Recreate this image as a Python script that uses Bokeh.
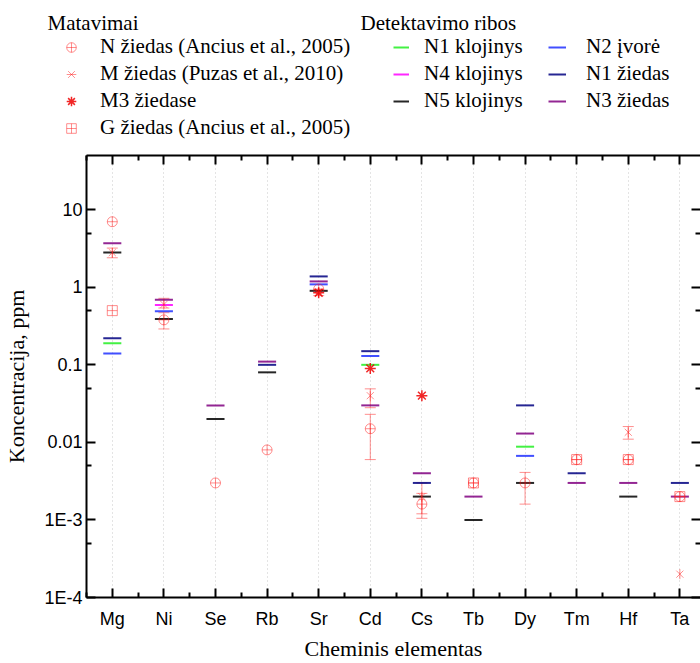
import numpy as np
from bokeh.plotting import figure
from bokeh.layouts import column
from bokeh.models import (ColumnDataSource, Whisker, TeeHead, Legend, LegendItem, Label,
                          FixedTicker, LinearAxis, LogAxis, CustomJSTickFormatter, Range1d)
from bokeh.embed import file_html
from bokeh.resources import INLINE

NA = None

ELEMENTS = ["Mg", "Ni", "Se", "Rb", "Sr", "Cd", "Cs", "Tb", "Dy", "Tm", "Hf", "Ta"]
Y_LABELS = ["1E-4", "1E-3", "0.01", "0.1", "1", "10"]

# Detection limits, ppm
LIM_N1_KLOJINYS = [0.19, NA, NA, NA, NA, 0.10, NA, NA, 0.0088, NA, NA, NA]
LIM_N2_IVORE = [0.14, 0.49, NA, NA, 1.09, 0.13, NA, NA, 0.0067, NA, NA, NA]
LIM_N4_KLOJINYS = [NA, 0.59, NA, NA, NA, NA, NA, NA, NA, NA, NA, NA]
LIM_N1_ZIEDAS = [0.22, NA, NA, 0.10, 1.38, 0.15, 0.003, NA, 0.03, 0.004, NA, 0.003]
LIM_N5_KLOJINYS = [2.8, 0.39, 0.02, 0.08, 0.90, NA, 0.002, 0.001, 0.003, NA, 0.002, NA]
LIM_N3_ZIEDAS = [3.7, 0.69, 0.03, 0.11, 1.19, 0.03, 0.004, 0.002, 0.013, 0.003, 0.003, 0.002]

# Measurements, ppm (with error bounds where reported)
N_ZIEDAS = [7.0, 0.38, 0.003, 0.008, 0.95, 0.015, 0.0016, 0.003, 0.003, 0.006, 0.006, 0.002]
N_ZIEDAS_LO = [NA, 0.29, NA, NA, NA, 0.006, 0.00105, NA, 0.0016, NA, NA, NA]
N_ZIEDAS_HI = [NA, 0.47, NA, NA, NA, 0.023, 0.0022, NA, 0.0041, NA, NA, NA]

M_ZIEDAS = [2.8, 0.60, NA, NA, NA, 0.04, 0.002, NA, NA, NA, 0.0135, 0.0002]
M_ZIEDAS_LO = [2.4, 0.54, NA, NA, NA, 0.028, 0.0012, NA, NA, NA, 0.011, NA]
M_ZIEDAS_HI = [3.2, 0.72, NA, NA, NA, 0.049, 0.003, NA, NA, NA, 0.016, NA]

M3_ZIEDASE = [NA, NA, NA, NA, 0.85, 0.09, 0.04, NA, NA, NA, NA, NA]
M3_ZIEDASE_LO = [NA, NA, NA, NA, 0.78, NA, NA, NA, NA, NA, NA, NA]
M3_ZIEDASE_HI = [NA, NA, NA, NA, 0.93, NA, NA, NA, NA, NA, NA, NA]

G_ZIEDAS = [0.5, NA, NA, NA, NA, NA, NA, 0.003, NA, 0.006, 0.006, 0.002]


def arr(values):
    return np.array([np.nan if v is None else v for v in values], dtype=float)


X = np.arange(len(ELEMENTS), dtype=float)
HALF = 0.175
RED = "#ff2020"
SERIF = "Liberation Serif"
SANS = "Liberation Sans"
KEY_H = 150  # height of the key strip above the chart

# ---------------- main chart ----------------
p = figure(width=700, height=663 - KEY_H, output_backend="svg", toolbar_location=None,
           x_range=Range1d(-0.5, 11.4), y_range=Range1d(1e-4, 50), y_axis_type="log",
           x_axis_location=None, y_axis_location=None,
           min_border_left=86, min_border_right=0, min_border_top=5, min_border_bottom=62)
p.outline_line_color = None
p.background_fill_color = "white"
p.border_fill_color = "white"
p.frame_align = False

xticker = FixedTicker(ticks=list(range(len(ELEMENTS))),
                      minor_ticks=[i + 0.5 for i in range(-1, len(ELEMENTS))])
yticker = FixedTicker(ticks=[1e-4, 1e-3, 1e-2, 1e-1, 1.0, 10.0],
                      minor_ticks=[5e-4, 5e-3, 5e-2, 0.5, 5.0])
blank = CustomJSTickFormatter(code="return ''")

p.xgrid.ticker = xticker
p.xgrid.grid_line_color = "#c8c8c8"
p.xgrid.grid_line_dash = "1 3"
p.xgrid.grid_line_width = 1
p.ygrid.visible = False


def style_axis(ax):
    ax.axis_line_width = 2
    ax.axis_line_color = "black"
    ax.major_tick_line_width = 2
    ax.minor_tick_line_width = 2
    ax.major_tick_in = 9
    ax.major_tick_out = 0
    ax.minor_tick_in = 5
    ax.minor_tick_out = 0
    ax.major_label_text_font = SANS
    ax.major_label_text_font_size = "18px"
    ax.major_label_text_color = "black"
    ax.axis_label_text_font = SERIF
    ax.axis_label_text_font_size = "22px"
    ax.axis_label_text_font_style = "normal"
    ax.axis_label_text_color = "black"


def tick_only(ax):
    ax.major_label_standoff = 0
    ax.major_label_text_font_size = "0px"


xb = LinearAxis(ticker=xticker, axis_label="Cheminis elementas",
                formatter=CustomJSTickFormatter(args=dict(labels=ELEMENTS),
                                                code="return labels[Math.round(tick)] || ''"))
style_axis(xb)
xb.major_label_standoff = 11
xb.axis_label_standoff = 4
p.add_layout(xb, "below")

xt = LinearAxis(ticker=xticker, formatter=blank)
style_axis(xt)
tick_only(xt)
p.add_layout(xt, "above")

yl = LogAxis(ticker=yticker, axis_label="Koncentracija, ppm",
             formatter=CustomJSTickFormatter(args=dict(labels=Y_LABELS),
                                             code="return labels[Math.round(Math.log10(tick)) + 4]"))
style_axis(yl)
yl.major_label_standoff = 4
yl.axis_label_standoff = 12
p.add_layout(yl, "left")

yr = LogAxis(ticker=yticker, formatter=blank)
style_axis(yr)
tick_only(yr)
yr.axis_line_color = None
p.add_layout(yr, "right")

# detection limit bars
limit_series = [
    ("N1 klojinys", LIM_N1_KLOJINYS, "#22ee22"),
    ("N4 klojinys", LIM_N4_KLOJINYS, "#ff00ff"),
    ("N5 klojinys", LIM_N5_KLOJINYS, "#000000"),
    ("N2 įvorė", LIM_N2_IVORE, "#2030ff"),
    ("N1 žiedas", LIM_N1_ZIEDAS, "#000080"),
    ("N3 žiedas", LIM_N3_ZIEDAS, "#800080"),
]
LIMIT_STYLE = dict(line_width=2, line_alpha=0.85)
for name, vals, color in limit_series:
    y = arr(vals)
    p.segment(x0=X - HALF, x1=X + HALF, y0=y, y1=y, line_color=color, **LIMIT_STYLE)


def whiskers(lo, hi, alpha=0.5):
    lo_a, hi_a = arr(lo), arr(hi)
    m = ~np.isnan(lo_a)
    src = ColumnDataSource(dict(x=X[m], lo=lo_a[m], hi=hi_a[m]))
    head = dict(size=11, line_color=RED, line_alpha=alpha, line_width=1)
    p.add_layout(Whisker(source=src, base="x", lower="lo", upper="hi",
                         line_color=RED, line_alpha=alpha, line_width=1,
                         upper_head=TeeHead(**head), lower_head=TeeHead(**head)))


whiskers(N_ZIEDAS_LO, N_ZIEDAS_HI)
whiskers(M_ZIEDAS_LO, M_ZIEDAS_HI)
whiskers(M3_ZIEDASE_LO, M3_ZIEDASE_HI)

MK = dict(size=10, fill_color=None, line_color=RED, line_width=1, line_alpha=0.5)
M3_STYLE = dict(size=11, fill_color=None, line_color="#ee0000", line_width=1.5, line_alpha=0.85)

marker_series = [
    ("N žiedas (Ancius et al., 2005)", N_ZIEDAS, [("circle_cross", 0.0, MK)]),
    ("M žiedas (Puzas et al., 2010)", M_ZIEDAS, [("x", 0.0, MK), ("dash", np.pi / 2, MK)]),
    ("M3 žiedase", M3_ZIEDASE, [("asterisk", 0.0, M3_STYLE)]),
    ("G žiedas (Ancius et al., 2005)", G_ZIEDAS, [("square_cross", 0.0, MK)]),
]
for name, vals, parts in marker_series:
    for marker, ang, st in parts:
        p.scatter(X, arr(vals), marker=marker, angle=ang, **st)

# ---------------- key strip ----------------
k = figure(width=700, height=KEY_H, output_backend="svg", toolbar_location=None,
           x_range=Range1d(0, 700), y_range=Range1d(KEY_H, 0),
           x_axis_location=None, y_axis_location=None,
           min_border=0)
k.outline_line_color = None
k.grid.visible = False
k.frame_align = False


def key_legend(items, left, bottom, glyph_w, standoff):
    k.add_layout(Legend(items=items, location=(left, KEY_H - bottom),
                        glyph_width=glyph_w, glyph_height=24, label_height=24, spacing=2,
                        label_standoff=standoff, padding=0, margin=0,
                        border_line_color=None, background_fill_alpha=0,
                        label_text_font=SERIF, label_text_font_size="21px",
                        label_text_color="black"))


# key entries reuse the series styles on a single non-plotted (NaN) point
marker_items = []
for name, vals, parts in marker_series:
    rs = [k.scatter([np.nan], [np.nan], marker=marker, angle=ang, **st)
          for marker, ang, st in parts]
    marker_items.append(LegendItem(label=name, renderers=rs))
line_items = []
for name, vals, color in limit_series:
    r = k.segment(x0=[np.nan], x1=[np.nan], y0=[np.nan], y1=[np.nan],
                  line_color=color, **LIMIT_STYLE)
    line_items.append(LegendItem(label=name, renderers=[r]))

key_legend(marker_items, left=47, bottom=140, glyph_w=48, standoff=5)
key_legend(line_items[:3], left=393, bottom=113, glyph_w=16, standoff=15)
key_legend(line_items[3:], left=548, bottom=113, glyph_w=18, standoff=20)

for text, x in [("Matavimai", 47), ("Detektavimo ribos", 360)]:
    k.add_layout(Label(x=x, y=22, text=text, text_baseline="middle", text_font=SERIF,
                       text_font_size="21px", text_color="black"))

open("out.html", "w").write(file_html(column(k, p, spacing=0), INLINE))
